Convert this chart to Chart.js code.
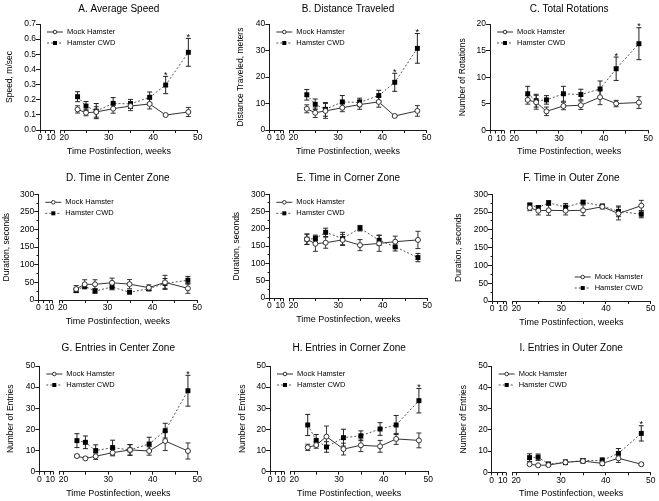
<!DOCTYPE html>
<html><head><meta charset="utf-8">
<script src="https://cdn.jsdelivr.net/npm/chart.js@4/dist/chart.umd.min.js"></script>
<style>
html,body{margin:0;padding:0;background:#fff;}
#wrap{position:relative;width:659px;height:501px;overflow:hidden;background:#fff;}
#wrap canvas{position:absolute;}
</style></head><body><div id="wrap"></div>
<script>
// ---------------- DATA ----------------
const weeks = [23, 24.9, 27.2, 31, 34.9, 39.2, 42.8, 47.9];
const seriesNames = ['Mock Hamster', 'Hamster CWD'];
const xTitle = 'Time Postinfection, weeks';
const xBreakTicks = [0, 5, 10];
const xMainTicks = [20, 25, 30, 35, 40, 45, 50];

const speedTicks = [0, 0.1, 0.2, 0.3, 0.4, 0.5, 0.6, 0.7];
const distanceTicks = [0, 10, 20, 30, 40];
const rotationTicks = [0, 5, 10, 15, 20];
const durationTicks = [0, 50, 100, 150, 200, 250, 300];
const entriesTicks = [0, 10, 20, 30, 40, 50];

// A. Average Speed
const speedMock     = [0.136, 0.114, 0.119, 0.141, 0.158, 0.172, 0.099, 0.119];
const speedMockErr  = [0.024, 0.020, 0.035, 0.030, 0.030, 0.033, 0.005, 0.030];
const speedCwd      = [0.220, 0.158, 0.125, 0.176, 0.172, 0.216, 0.297, 0.513];
const speedCwdErr   = [0.033, 0.030, 0.050, 0.038, 0.030, 0.035, 0.057, 0.092];
const speedStars    = [0, 0, 0, 0, 0, 0, 1, 1];
// B. Distance Traveled
const distMock      = [8.0, 6.5, 7.2, 8.4, 9.6, 10.6, 5.3, 7.2];
const distMockErr   = [1.5, 1.8, 2.8, 1.5, 1.8, 2.0, 0.4, 2.0];
const distCwd       = [13.3, 9.7, 7.8, 10.6, 10.4, 13.0, 18.0, 30.8];
const distCwdErr    = [2.0, 2.0, 2.6, 2.4, 1.6, 2.0, 3.4, 5.6];
const distStars     = [0, 0, 0, 0, 0, 0, 1, 1];
// C. Total Rotations
const rotMock       = [5.75, 5.3, 3.6, 4.6, 4.75, 6.25, 5.06, 5.25];
const rotMockErr    = [0.8, 1.3, 0.8, 0.7, 0.8, 1.4, 0.6, 1.1];
const rotCwd        = [6.9, 5.6, 5.75, 6.9, 6.75, 7.8, 11.6, 16.3];
const rotCwdErr     = [1.4, 1.2, 0.8, 1.4, 1.0, 1.5, 2.2, 3.0];
const rotStars      = [0, 0, 0, 0, 0, 0, 1, 1];
// D. Time in Center Zone
const centerTimeMock    = [31, 44.5, 44.5, 49, 45, 35, 50, 33];
const centerTimeMockErr = [10, 13, 13, 13, 13, 8, 20, 14];
const centerTimeCwd     = [27.5, 39, 25.5, 37, 22, 32, 47, 56];
const centerTimeCwdErr  = [6, 5, 6, 8, 3, 6, 14, 11];
const centerTimeStars   = [0, 0, 0, 0, 0, 0, 0, 0];
// E. Time in Corner Zone
const cornerTimeMock    = [170, 157, 160, 168, 153, 158, 163, 168];
const cornerTimeMockErr = [15, 22, 16, 16, 16, 23, 16, 25];
const cornerTimeCwd     = [170, 172, 190, 172, 202, 167, 148, 117];
const cornerTimeCwdErr  = [15, 10, 12, 18, 8, 15, 12, 12];
const cornerTimeStars   = [0, 0, 0, 0, 0, 0, 0, 0];
// F. Time in Outer Zone
const outerTimeMock     = [262, 254, 255, 254, 255, 265, 246, 268];
const outerTimeMockErr  = [8, 12, 14, 12, 15, 6, 18, 15];
const outerTimeCwd      = [270, 263, 276, 264, 278, 267, 252, 244];
const outerTimeCwdErr   = [5, 5, 6, 10, 4, 5, 15, 10];
const outerTimeStars    = [0, 0, 0, 0, 0, 0, 0, 0];
// G. Entries in Center Zone
const centerEntMock     = [7.4, 6.3, 7.3, 9.0, 10.3, 9.8, 14.5, 9.8];
const centerEntMockErr  = [0.6, 0.5, 1.5, 1.5, 2.5, 2.0, 4.5, 3.8];
const centerEntCwd      = [14.7, 13.9, 10.0, 11.4, 10.3, 13.1, 19.4, 38.3];
const centerEntCwdErr   = [3.3, 3.0, 2.7, 3.5, 2.5, 3.2, 3.5, 7.3];
const centerEntStars    = [0, 0, 0, 0, 0, 0, 0, 1];
// H. Entries in Corner Zone
const cornerEntMock     = [11.5, 12.6, 16.6, 10.7, 12.5, 12.0, 15.5, 14.8];
const cornerEntMockErr  = [1.5, 1.5, 5.0, 2.8, 3.0, 2.8, 2.6, 3.5];
const cornerEntCwd      = [22.1, 14.8, 11.7, 16.1, 17.0, 20.2, 22.1, 33.6];
const cornerEntCwdErr   = [5.0, 2.8, 2.5, 4.0, 2.3, 3.0, 4.5, 5.8];
const cornerEntStars    = [0, 0, 0, 0, 0, 0, 0, 1];
// I. Entries in Outer Zone
const outerEntMock      = [3.8, 3.3, 3.4, 4.7, 5.3, 4.2, 6.6, 3.8];
const outerEntMockErr   = [0.5, 0.4, 0.7, 1.0, 1.0, 1.0, 2.0, 0.6];
const outerEntCwd       = [6.9, 7.1, 3.9, 4.7, 5.5, 5.6, 8.9, 18.3];
const outerEntCwdErr    = [1.8, 1.5, 0.8, 1.1, 1.0, 1.2, 2.3, 3.6];
const outerEntStars     = [0, 0, 0, 0, 0, 0, 0, 1];

// ---------------- PANEL TABLE (built from the arrays) ----------------
const panels = [
  {title:'A. Average Speed', yTitle:'Speed, m/sec', yTicks:speedTicks, yMinor:null, dec:1,
   mock:speedMock, mockErr:speedMockErr, cwd:speedCwd, cwdErr:speedCwdErr, stars:speedStars, legend:'tl'},
  {title:'B. Distance Traveled', yTitle:'Distance Traveled, meters', yTicks:distanceTicks, yMinor:null, dec:0,
   mock:distMock, mockErr:distMockErr, cwd:distCwd, cwdErr:distCwdErr, stars:distStars, legend:'tl'},
  {title:'C. Total Rotations', yTitle:'Number of Rotations', yTicks:rotationTicks, yMinor:null, dec:0,
   mock:rotMock, mockErr:rotMockErr, cwd:rotCwd, cwdErr:rotCwdErr, stars:rotStars, legend:'tl'},
  {title:'D. Time in Center Zone', yTitle:'Duration, seconds', yTicks:durationTicks, yMinor:25, dec:0,
   mock:centerTimeMock, mockErr:centerTimeMockErr, cwd:centerTimeCwd, cwdErr:centerTimeCwdErr, stars:centerTimeStars, legend:'tl'},
  {title:'E. Time in Corner Zone', yTitle:'Duration, seconds', yTicks:durationTicks, yMinor:25, dec:0,
   mock:cornerTimeMock, mockErr:cornerTimeMockErr, cwd:cornerTimeCwd, cwdErr:cornerTimeCwdErr, stars:cornerTimeStars, legend:'tl'},
  {title:'F. Time in Outer Zone', yTitle:'Duration, seconds', yTicks:durationTicks, yMinor:25, dec:0,
   mock:outerTimeMock, mockErr:outerTimeMockErr, cwd:outerTimeCwd, cwdErr:outerTimeCwdErr, stars:outerTimeStars, legend:'br'},
  {title:'G. Entries in Center Zone', yTitle:'Number of Entries', yTicks:entriesTicks, yMinor:null, dec:0,
   mock:centerEntMock, mockErr:centerEntMockErr, cwd:centerEntCwd, cwdErr:centerEntCwdErr, stars:centerEntStars, legend:'tl'},
  {title:'H. Entries in Corner Zone', yTitle:'Number of Entries', yTicks:entriesTicks, yMinor:null, dec:0,
   mock:cornerEntMock, mockErr:cornerEntMockErr, cwd:cornerEntCwd, cwdErr:cornerEntCwdErr, stars:cornerEntStars, legend:'tl'},
  {title:'I. Entries in Outer Zone', yTitle:'Number of Entries', yTicks:entriesTicks, yMinor:null, dec:0,
   mock:outerEntMock, mockErr:outerEntMockErr, cwd:outerEntCwd, cwdErr:outerEntCwdErr, stars:outerEntStars, legend:'tl'}
];

// ---------------- LAYOUT (positions only) ----------------
const layouts = [
  {ox:0,   oy:0,   L:40,    R:197.7, T:24,    B:130,   titleY:9,     yTitleX:10},
  {ox:220, oy:0,   L:269.3, R:426.7, T:24,    B:130,   titleY:9,     yTitleX:240.7},
  {ox:440, oy:0,   L:490,   R:648.3, T:24,    B:130.5, titleY:9,     yTitleX:463},
  {ox:0,   oy:165, L:38.3,  R:197.3, T:194.3, B:300,   titleY:178,   yTitleX:6.5},
  {ox:220, oy:165, L:269.3, R:427.3, T:194.3, B:298,   titleY:178,   yTitleX:237},
  {ox:440, oy:165, L:492,   R:650.7, T:194.3, B:301,   titleY:178,   yTitleX:459},
  {ox:0,   oy:330, L:39.3,  R:197.3, T:366,   B:471.7, titleY:348.3, yTitleX:10.7},
  {ox:220, oy:330, L:270,   R:428.3, T:366,   B:471.7, titleY:348.3, yTitleX:243},
  {ox:440, oy:330, L:491.7, R:650.7, T:366,   B:472.3, titleY:348.3, yTitleX:464}
];

const FONT = "'Liberation Sans', Arial, Helvetica, sans-serif";
Chart.defaults.font.family = FONT;
Chart.defaults.color = '#000';
Chart.defaults.animation = false;
const AX = '#1a1a1a';
const TICK_FONT = 8.5, YT_FONT = 8.5, TITLE_FONT = 10, XT_FONT = 9, LEG_FONT = 7.5;

function align(p){ return Math.round(p - 0.5) + 0.5; }

const errorBarPlugin = {
  id: 'errorBars',
  beforeDatasetsDraw(chart) {
    const ctx = chart.ctx, ys = chart.scales.y;
    chart.data.datasets.forEach((ds, di) => {
      const meta = chart.getDatasetMeta(di);
      ctx.save();
      ctx.strokeStyle = ds.barColor; ctx.lineWidth = 1; ctx.setLineDash([]);
      meta.data.forEach((pt, i) => {
        const v = ds.data[i].y, e = ds.errors[i];
        const x = pt.x, y1 = ys.getPixelForValue(v + e), y2 = ys.getPixelForValue(v - e);
        ctx.beginPath();
        ctx.moveTo(x, y1); ctx.lineTo(x, y2);
        ctx.moveTo(x - 2.5, y1); ctx.lineTo(x + 2.5, y1);
        ctx.moveTo(x - 2.5, y2); ctx.lineTo(x + 2.5, y2);
        ctx.stroke();
      });
      ctx.restore();
    });
  },
  afterDatasetsDraw(chart) {
    const ctx = chart.ctx, ys = chart.scales.y;
    chart.data.datasets.forEach((ds, di) => {
      if (!ds.stars) return;
      const meta = chart.getDatasetMeta(di);
      ctx.save();
      ctx.fillStyle = '#000'; ctx.font = '9px ' + FONT; ctx.textAlign = 'center'; ctx.textBaseline = 'alphabetic';
      meta.data.forEach((pt, i) => {
        if (!ds.stars[i]) return;
        const yTop = ys.getPixelForValue(ds.data[i].y + ds.errors[i]);
        ctx.fillText('*', pt.x, yTop + 1.5);
      });
      ctx.restore();
    });
  }
};

function drawMarker(ctx, ds, x, y) {
  ctx.save();
  ctx.setLineDash([]);
  ctx.lineWidth = 1;
  if (ds.pointStyle === 'rect') {
    ctx.fillStyle = ds.pointBackgroundColor;
    ctx.fillRect(x - 2, y - 2, 4, 4);
  } else {
    ctx.beginPath(); ctx.arc(x, y, 1.8, 0, Math.PI * 2);
    ctx.fillStyle = ds.pointBackgroundColor; ctx.fill();
    ctx.strokeStyle = ds.pointBorderColor; ctx.stroke();
  }
  ctx.restore();
}

const legendPlugin = {
  id: 'panelLegend',
  afterDraw(chart, args, opts) {
    const ctx = chart.ctx, ca = chart.chartArea;
    let x0, y0;
    if (opts.pos === 'br') { x0 = ca.right - 76; y0 = ca.bottom - 24; }
    else { x0 = ca.left + 7; y0 = ca.top + 8; }
    chart.data.datasets.forEach((ds, i) => {
      const y = y0 + i * 11;
      ctx.save();
      ctx.strokeStyle = ds.borderColor; ctx.lineWidth = 1; ctx.setLineDash(ds.borderDash || []);
      ctx.beginPath(); ctx.moveTo(x0, y); ctx.lineTo(x0 + 16, y); ctx.stroke();
      drawMarker(ctx, ds, x0 + 8, y);
      ctx.fillStyle = '#000'; ctx.font = LEG_FONT + 'px ' + FONT; ctx.textBaseline = 'middle'; ctx.textAlign = 'left';
      ctx.fillText(ds.label, x0 + 20, y);
      ctx.restore();
    });
  }
};

const axisPlugin = {
  id: 'axisBreak',
  afterDraw(chart, args, opts) {
    const ctx = chart.ctx, x0 = chart.scales.x0, x = chart.scales.x, ys = chart.scales.y;
    ctx.save();
    ctx.strokeStyle = AX; ctx.lineWidth = 1;
    const yb = align(x0.top);
    ctx.beginPath();
    const a = x0.getPixelForValue(0), b = x0.getPixelForValue(13);
    ctx.moveTo(a, yb); ctx.lineTo(b, yb);
    ctx.moveTo(align(b), yb); ctx.lineTo(align(b), yb + 3);
    const s = align(x.left);
    ctx.moveTo(s, yb); ctx.lineTo(s, yb + 3);
    if (opts.minor) {
      const major = chart.scales.y.ticks.map(t => t.value);
      const ax = align(ys.right);
      for (let v = ys.min; v <= ys.max + 1e-9; v += opts.minor) {
        if (major.some(m => Math.abs(m - v) < 1e-9)) continue;
        const py = align(ys.getPixelForValue(v));
        ctx.moveTo(ax - 2, py); ctx.lineTo(ax, py);
      }
    }
    ctx.stroke();
    ctx.restore();
  }
};

const wrap = document.getElementById('wrap');

function makePanel(p, lay) {
  const xAxisH = 13;
  const subH = 3 + XT_FONT * 1.2;
  const needH = (lay.B - lay.oy) + xAxisH + subH;
  const ch = Math.ceil(needH + 2);
  const cw = Math.ceil(lay.R - lay.ox + 12);
  const canvas = document.createElement('canvas');
  canvas.width = cw; canvas.height = ch;
  canvas.style.left = lay.ox + 'px'; canvas.style.top = lay.oy + 'px';
  canvas.style.width = cw + 'px'; canvas.style.height = ch + 'px';
  wrap.appendChild(canvas);

  const tPadTop = lay.titleY - lay.oy - TITLE_FONT * 0.6;
  const tPadBottom = (lay.T - lay.oy) - tPadTop - TITLE_FONT * 1.2;
  const yW = lay.L - lay.ox;
  const yTitlePad = lay.yTitleX - lay.ox - YT_FONT * 0.6;
  const yTicks = p.yTicks;

  const mk = (arr) => weeks.map((w, i) => ({x: w, y: arr[i]}));
  new Chart(canvas, {
    type: 'line',
    data: {
      datasets: [
        {label: seriesNames[0], data: mk(p.mock), errors: p.mockErr, xAxisID: 'x', yAxisID: 'y',
         borderColor: '#333', barColor: '#333', borderWidth: 1, tension: 0,
         pointStyle: 'circle', pointRadius: 2.5, pointBackgroundColor: '#fff',
         pointBorderColor: '#333', pointBorderWidth: 1, clip: false},
        {label: seriesNames[1], data: mk(p.cwd), errors: p.cwdErr, stars: p.stars, xAxisID: 'x', yAxisID: 'y',
         borderColor: '#555', barColor: '#222', borderWidth: 1, borderDash: [2, 2], tension: 0,
         pointStyle: 'rect', pointRadius: 3.5, pointBackgroundColor: '#000',
         pointBorderColor: '#000', pointBorderWidth: 0, clip: false}
      ]
    },
    options: {
      responsive: false, devicePixelRatio: 1, animation: false,
      events: [],
      layout: {padding: {left: 0, top: 0, right: cw - (lay.R - lay.ox), bottom: ch - needH}},
      plugins: {
        legend: {display: false}, tooltip: {enabled: false},
        title: {display: true, text: p.title, fullSize: false, color: '#000',
                font: {size: TITLE_FONT, weight: 'normal'}, padding: {top: tPadTop, bottom: tPadBottom}},
        subtitle: {display: true, text: xTitle, position: 'bottom', fullSize: false, color: '#000',
                   font: {size: XT_FONT, weight: 'normal'}, padding: {top: 3, bottom: 0}},
        panelLegend: {pos: p.legend},
        axisBreak: {minor: p.yMinor}
      },
      scales: {
        y: {
          type: 'linear', position: 'left',
          min: yTicks[0], max: yTicks[yTicks.length - 1],
          afterBuildTicks: s => { s.ticks = yTicks.map(v => ({value: v})); },
          afterFit: s => { s.width = yW; },
          ticks: {callback: v => Number(v).toFixed(p.dec), font: {size: TICK_FONT}, padding: 0, color: '#000'},
          grid: {drawOnChartArea: false, drawTicks: true, tickLength: 4, color: AX, tickColor: AX},
          border: {display: true, color: AX, width: 1},
          title: {display: true, text: p.yTitle, color: '#000', font: {size: YT_FONT}, padding: {top: yTitlePad, bottom: 0}}
        },
        x0: {
          type: 'linear', position: 'bottom', stack: 'xb', stackWeight: 0.131,
          min: 0, max: 18.8,
          afterBuildTicks: s => { s.ticks = xBreakTicks.map(v => ({value: v})); },
          afterFit: s => { s.height = xAxisH; },
          ticks: {callback: v => (v % 10 === 0 ? String(v) : ''), autoSkip: false, maxRotation: 0, minRotation: 0,
                  font: {size: TICK_FONT}, padding: 0, color: '#000'},
          grid: {drawOnChartArea: false, drawTicks: true, tickLength: 3, color: AX, tickColor: AX},
          border: {display: false}
        },
        x: {
          type: 'linear', position: 'bottom', stack: 'xb', stackWeight: 0.869,
          min: 19.2, max: 50,
          afterBuildTicks: s => { s.ticks = xMainTicks.map(v => ({value: v})); },
          afterFit: s => { s.height = xAxisH; },
          ticks: {callback: v => (v % 10 === 0 ? String(v) : ''), autoSkip: false, maxRotation: 0, minRotation: 0,
                  font: {size: TICK_FONT}, padding: 0, color: '#000'},
          grid: {drawOnChartArea: false, drawTicks: true, tickLength: 3, color: AX, tickColor: AX},
          border: {display: true, color: AX, width: 1}
        }
      }
    },
    plugins: [errorBarPlugin, legendPlugin, axisPlugin]
  });
}

panels.forEach((p, i) => makePanel(p, layouts[i]));
</script>
</body></html>
